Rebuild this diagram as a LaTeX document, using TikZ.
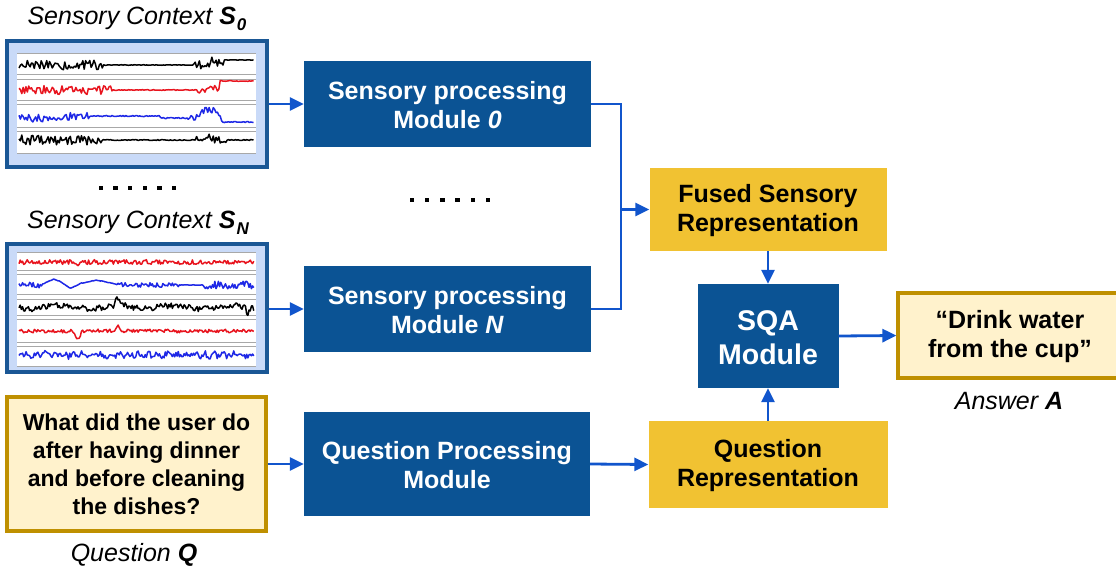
\documentclass[tikz,border=0pt]{standalone}
\usepackage{fontspec}
\setmainfont{Liberation Sans}
\usetikzlibrary{arrows.meta,calc}
\definecolor{modblue}{HTML}{0B5394}
\definecolor{arrblue}{HTML}{1155CC}
\definecolor{repyellow}{HTML}{F1C232}
\definecolor{paleyellow}{HTML}{FFF2CC}
\definecolor{goldedge}{HTML}{BF9000}
\definecolor{ctxfill}{HTML}{C9DAF8}
\definecolor{ctxedge}{HTML}{1A5795}
\definecolor{sepgray}{HTML}{A8A8A8}
\definecolor{sigred}{HTML}{E8141E}
\definecolor{sigblue}{HTML}{1E28E6}
\begin{document}
\begin{tikzpicture}[x=1pt,y=-1pt,
  bigfont/.style={font=\fontsize{25}{29}\selectfont\bfseries},
  module/.style={rectangle, fill=modblue, text=white, bigfont, align=center, inner sep=0pt},
  rep/.style={rectangle, fill=repyellow, text=black, bigfont, align=center, inner sep=0pt},
  textbox/.style={rectangle, fill=paleyellow, draw=goldedge, line width=3.2pt, align=center, inner sep=0pt},
  ctx/.style={rectangle, fill=ctxfill, draw=ctxedge, line width=3.4pt, inner sep=0pt},
  caption/.style={font=\fontsize{25}{29}\selectfont\itshape, inner sep=0pt},
  conn/.style={draw=arrblue, line width=2.8pt},
  arr/.style={conn, -{Triangle[length=14pt,width=13pt]}},
  trace/.style={line width=1.5pt, line join=round},
  sep/.style={draw=sepgray, line width=0.9pt},
  dot/.style={fill=black, minimum size=4.5pt, inner sep=0pt, rectangle}
]
\useasboundingbox (0,0) rectangle (1116,568);
\pgfmathsetseed{4242}

% ---- sensory context panels ----
\node[ctx, minimum width=260pt, minimum height=126pt] (s0) at (137,104) {};
\node[ctx, minimum width=260pt, minimum height=128pt] (sn) at (137,308) {};

\node[caption] (s0title) at (137,19) {Sensory Context \textbf{S}\kern1pt\raisebox{-6pt}{\fontsize{17}{17}\selectfont\bfseries 0}};
\node[caption] (sntitle) at (138,223) {Sensory Context \textbf{S}\kern1pt\raisebox{-6pt}{\fontsize{17}{17}\selectfont\bfseries N}};

% signal plots of S_0
\fill[white] (17,53) rectangle (256,153);
\foreach \yy in {53,74,79,100,104,127,131,153} \draw[sep] (17,\yy) -- (256,\yy);
\draw[trace, black] plot[variable=\t, domain=0:1, samples=170]
  ({19+235*\t}, {65 - 5*(\t>0.87) - 5*max(0,1-abs((\t-0.83)/0.04)) + (4.5*(\t<0.36) + 0.3 + 4*(\t>0.74)*(\t<0.87))*rand});
\draw[trace, sigred] plot[variable=\t, domain=0:1, samples=170]
  ({19+235*\t}, {90 - 9*(\t>0.855) - 3*max(0,1-abs((\t-0.82)/0.04)) + (4*(\t<0.4) + 0.4 + 3*(\t>0.76)*(\t<0.85))*rand});
\draw[trace, sigblue] plot[variable=\t, domain=0:1, samples=170]
  ({19+235*\t}, {118 - 2*(\t>0.2)*(\t<0.6) - 10*max(0,1-abs((\t-0.81)/0.06)) + 4*(\t>0.86) + (3.5*(\t<0.3) + 0.6 + 3*(\t>0.72)*(\t<0.85))*rand});
\draw[trace, black] plot[variable=\t, domain=0:1, samples=170]
  ({19+235*\t}, {140 - 5*max(0,1-abs((\t-0.8)/0.03)) + (4.5*(\t<0.35) + 0.5 + 3*(\t>0.75)*(\t<0.88))*rand});

% signal plots of S_N
\fill[white] (17,252) rectangle (256,366);
\foreach \yy in {252,270,274,294,299,315,319,342,346,366} \draw[sep] (17,\yy) -- (256,\yy);
\draw[trace, sigred] plot[variable=\t, domain=0:1, samples=200]
  ({19+235*\t}, {262 + 4*max(0,1-abs((\t-0.25)/0.02)) + 2.4*rand});
\draw[trace, sigblue] plot[variable=\t, domain=0:1, samples=200]
  ({19+235*\t}, {285 - 6*max(0,1-abs((\t-0.15)/0.06)) - 5*max(0,1-abs((\t-0.33)/0.1)) + 3*max(0,1-abs((\t-0.22)/0.04)) + (2.5*(\t<0.1) + 2*(\t>0.42)*(\t<0.68) + 3.5*(\t>0.78) + 0.3)*rand});
\draw[trace, black] plot[variable=\t, domain=0:1, samples=200]
  ({19+235*\t}, {307 - 7*max(0,1-abs((\t-0.42)/0.02)) + 8*max(0,1-abs((\t-0.975)/0.012)) + 3.2*rand + 1.5*sin(\t*1500)});
\draw[trace, sigred] plot[variable=\t, domain=0:1, samples=200]
  ({19+235*\t}, {331 + 9*max(0,1-abs((\t-0.25)/0.02)) - 5*max(0,1-abs((\t-0.42)/0.015)) + 1.8*rand});
\draw[trace, sigblue] plot[variable=\t, domain=0:1, samples=200]
  ({19+235*\t}, {355 + 3*rand + 1.5*sin(\t*9000)});

% ellipses between panels
\foreach \k in {0,...,5} {
  \node[dot] (ldot\k) at ({101+14.6*\k},188) {};
  \node[dot] (mdot\k) at ({412+15.2*\k},200) {};
}

% ---- question input ----
\node[textbox, minimum width=259pt, minimum height=134pt, font=\fontsize{23}{28}\selectfont\bfseries] (q) at (136.5,464)
  {What did the user do\\after having dinner\\and before cleaning\\the dishes?};
\node[caption] (qlabel) at (134,555) {Question \textbf{Q}};

% ---- processing modules ----
\node[module, minimum width=287pt, minimum height=86pt] (m0) at (447.5,104) {\strut Sensory processing\\Module \textit{0}};
\node[module, minimum width=287pt, minimum height=86pt] (mn) at (447.5,309) {\strut Sensory processing\\Module \textit{N}};
\node[module, minimum width=286pt, minimum height=104pt] (qpm) at (447,464) {\strut Question Processing\\Module};

% ---- representations ----
\node[rep, minimum width=237pt, minimum height=83pt] (fused) at (768,209.5) {\strut Fused Sensory\\Representation};
\node[rep, minimum width=239pt, minimum height=87pt] (qrep) at (768,464.5) {\strut Question\\Representation};
\node[module, minimum width=141pt, minimum height=104pt, font=\fontsize{28.5}{34}\selectfont\bfseries] (sqa) at (768,336) {\strut SQA\\Module};

% ---- answer ----
\node[textbox, minimum width=224pt, minimum height=85pt, font=\fontsize{25}{29}\selectfont\bfseries] (ans) at (1010,335.5)
  {\strut``Drink water\\from the cup''};
\node[caption] (alabel) at (1009,401) {Answer \textbf{A}};

% ---- connectors ----
\draw[arr] (s0.east) -- (m0.west);
\draw[arr] (sn.east |- mn.west) -- (mn.west);
\draw[arr] (q.east) -- (qpm.west);
\draw[arr] (qpm.east) -- (qrep.west);
\coordinate (jtop) at (621,104);
\coordinate (jbot) at (621,309);
\draw[conn] (m0.east) -- (jtop) -- (jbot) -- (mn.east);
\draw[arr] (jtop |- fused.west) -- (fused.west);
\draw[arr] (fused.south) -- (sqa.north);
\draw[arr] (qrep.north) -- (sqa.south);
\draw[arr] (sqa.east) -- (ans.west);
\end{tikzpicture}
\end{document}
